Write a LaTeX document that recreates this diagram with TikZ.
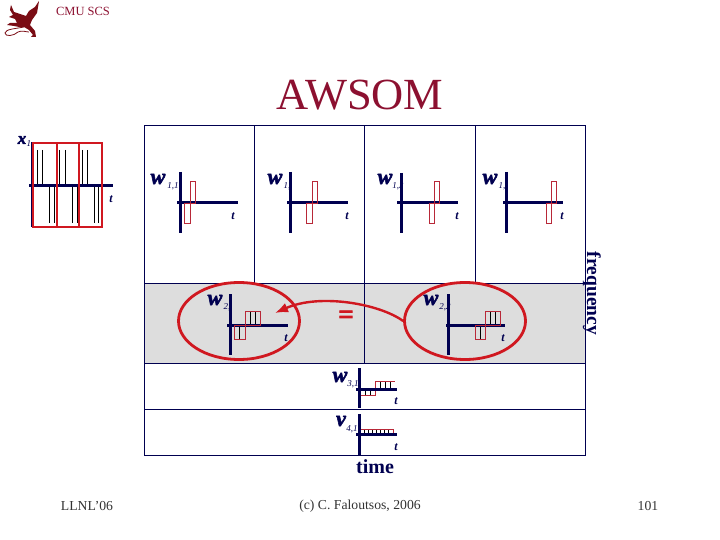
\documentclass[tikz,border=0pt]{standalone}
\usepackage{fontspec}
\setmainfont{Liberation Serif}
\newfontfamily\heavyfont[FakeBold=2.5]{Liberation Serif}
\usetikzlibrary{shapes.geometric,arrows.meta}
\definecolor{navyink}{HTML}{000050}
\definecolor{slidered}{HTML}{D01820}
\definecolor{titlered}{HTML}{8C1030}
\definecolor{boxred}{HTML}{B82838}
\definecolor{griffin}{HTML}{7A0C14}
\tikzset{
  gridline/.style={draw=navyink,line width=1pt},
  axisline/.style={draw=navyink,line width=3pt},
  waveline/.style={draw=boxred,line width=0.9pt},
  spikeline/.style={draw=black,line width=0.8pt},
  tiledge/.style={draw=slidered,line width=2.3pt},
  ringmark/.style={draw=slidered,line width=2.8pt,ellipse,minimum width=121pt,minimum height=77pt,inner sep=0pt},
  tlabel/.style={font=\bfseries\itshape\fontsize{12}{12}\selectfont,text=navyink,inner sep=0pt},
  wlabel/.style={font=\heavyfont\bfseries\itshape\fontsize{22}{22}\selectfont,text=navyink,inner sep=0pt},
  wsub/.style={font=\itshape\fontsize{9}{9}\selectfont,text=navyink,inner sep=0pt},
  footlabel/.style={font=\fontsize{13.7}{13.7}\selectfont,text=black!80,inner sep=0pt}
}
\begin{document}
\begin{tikzpicture}[x=1pt,y=-1pt]
\useasboundingbox (0,0) rectangle (720,540);
% logo and header
\fill[griffin] (39,1) -- (35,7) -- (29,11) -- (26,16) -- (20,14) -- (14,12) -- (11,5) -- (10,10) -- (13,15) -- (9,17)
  -- (15,19) -- (17,23) -- (10,23) -- (7,25) -- (14,26) -- (19,27) -- (24,27) -- (29,30) -- (33,35) -- (31,37) -- (36,37)
  -- (35,31) -- (30,25) -- (32,20) -- (37,13) -- cycle;
\draw[griffin,line width=0.8pt] (24,27) .. controls (14,29) and (6,29) .. (5,33) .. controls (5,37) and (14,36) .. (18,32) .. controls (22,30) and (26,32) .. (29,32);
\node[text=titlered,font=\fontsize{12.5}{12.5}\selectfont,inner sep=0pt] (cmulabel) at (83,11) {CMU SCS};
\node[text=titlered,font=\fontsize{44.5}{44.5}\selectfont,inner sep=0pt] (titlelabel) at (360,95) {AWSOM};
% grid
\fill[gray!27] (144,283) rectangle (585,363);
\draw[gridline] (144,126) rectangle (585,455);
\draw[gridline] (144,283) -- (585,283) (144,363) -- (585,363) (144,409) -- (585,409);
\draw[gridline] (254,126) -- (254,283) (364,126) -- (364,283) (475,126) -- (475,283) (364,283) -- (364,363);
% signal
\node[wlabel,font=\heavyfont\bfseries\itshape\fontsize{17}{17}\selectfont] (xlabel) at (22,140) {x};
\node[wsub] (xsub) at (29,144) {1};
\draw[spikeline] (37.5,150) -- (37.5,186) (42,150) -- (42,186) (59,150) -- (59,186) (65,150) -- (65,186) (82,150) -- (82,186) (87,150) -- (87,186);
\draw[spikeline] (49,186) -- (49,223) (54,186) -- (54,223) (72,186) -- (72,223) (77,186) -- (77,223) (94,186) -- (94,223) (98,186) -- (98,223);
\draw[axisline] (29,186) -- (113,186);
\draw[axisline] (32,142) -- (32,227);
\draw[tiledge] (33,143) rectangle (57,227) (57,143) rectangle (79,227) (79,143) rectangle (102,227);
\node[tlabel] (tzero) at (111,199) {t};
% row 1
\node[wlabel] (wa) at (158,179) {w};
\node[wsub] (wasub) at (173,186) {1,1};
\draw[axisline] (180,172) -- (180,233) (177,203) -- (238,203);
\draw[waveline] (184,203) rectangle (190,223) (190,181) rectangle (195,203);
\node[tlabel] (ta) at (233,216) {t};
\node[wlabel] (wb) at (275,179) {w};
\node[wsub] (wbsub) at (287,186) {1,};
\draw[axisline] (290,172) -- (290,233) (287,203) -- (348,203);
\draw[waveline] (306,203) rectangle (312,223) (312,181) rectangle (317,203);
\node[tlabel] (tb) at (347,216) {t};
\node[wlabel] (wc) at (385,179) {w};
\node[wsub] (wcsub) at (398,186) {1,3};
\draw[axisline] (401,173) -- (401,233) (397,203) -- (458,203);
\draw[waveline] (429,203) rectangle (434,223) (434,181) rectangle (439,203);
\node[tlabel] (tc) at (457,216) {t};
\node[wlabel] (wd) at (490,179) {w};
\node[wsub] (wdsub) at (502,186) {1,};
\draw[axisline] (506,172) -- (506,233) (503,203) -- (563,203);
\draw[waveline] (546,203) rectangle (551,223) (551,181) rectangle (556,203);
\node[tlabel] (td) at (562,216) {t};
% row 2
\node[wlabel] (we) at (215,300) {w};
\node[wsub] (wesub) at (227,307) {2,};
\draw[spikeline] (239,325) -- (239,339) (250,311) -- (250,325) (255,311) -- (255,325);
\draw[axisline] (230,294) -- (230,355) (227,325) -- (288,325);
\draw[waveline] (234.5,325) rectangle (245,339) (245,311) rectangle (260,325);
\node[tlabel] (te) at (286,338) {t};
\node[wlabel] (wf) at (431,300) {w};
\node[wsub] (wfsub) at (445,307) {2,2};
\draw[spikeline] (480,325) -- (480,339) (490,311) -- (490,325) (495,311) -- (495,325);
\draw[axisline] (448,294) -- (448,355) (446,325) -- (505,325);
\draw[waveline] (475,325) rectangle (485,339) (485,311) rectangle (500,325);
\node[tlabel] (tf) at (503,338) {t};
\node[ringmark] (ringleft) at (239,321) {};
\node[ringmark] (ringright) at (465,321) {};
\coordinate (ringtip) at (275,313);
\draw[slidered,line width=2.4pt,-{Latex[length=13pt,width=10pt]}] (ringright.west) .. controls (380,304) and (320,293) .. (ringtip);
\node[text=slidered,font=\heavyfont\bfseries\fontsize{27}{27}\selectfont,inner sep=0pt] (equalsign) at (346,317) {=};
% row 3
\node[wlabel] (wg) at (340,377) {w};
\node[wsub] (wgsub) at (353,384) {3,1};
\draw[spikeline] (365,389) -- (365,395) (370,389) -- (370,395) (380,381) -- (380,389) (385,381) -- (385,389) (390,381) -- (390,389);
\draw[waveline] (360,389) -- (360,395) -- (375,395) -- (375,381) -- (395,381);
\draw[axisline] (359,368) -- (359,408) (356,389) -- (397,389);
\node[tlabel] (tg) at (396,401) {t};
% row 4
\node[wlabel] (wh) at (341,421) {v};
\node[wsub] (whsub) at (352,429) {4,1};
\draw[spikeline] (364,429) -- (364,434) (368,429) -- (368,434) (372,429) -- (372,434) (376,429) -- (376,434) (380,429) -- (380,434) (384,429) -- (384,434) (388,429) -- (388,434);
\draw[waveline] (360,434) -- (360,429) -- (393,429) -- (393,434);
\draw[axisline] (359,414) -- (359,455) (356,434) -- (397,434);
\node[tlabel] (th) at (396,447) {t};
% axis names and footer
\node[text=navyink,font=\bfseries\fontsize{20}{20}\selectfont,inner sep=0pt] (timelabel) at (375,467) {time};
\node[text=navyink,font=\bfseries\fontsize{19.5}{19.5}\selectfont,inner sep=0pt,rotate=-90] (freqlabel) at (592,293.5) {frequency};
\node[footlabel] (footleft) at (87,506.5) {LLNL'06};
\node[footlabel] (footmid) at (360,506.5) {(c) C. Faloutsos, 2006};
\node[footlabel] (footright) at (648,506.5) {101};
\end{tikzpicture}
\end{document}
